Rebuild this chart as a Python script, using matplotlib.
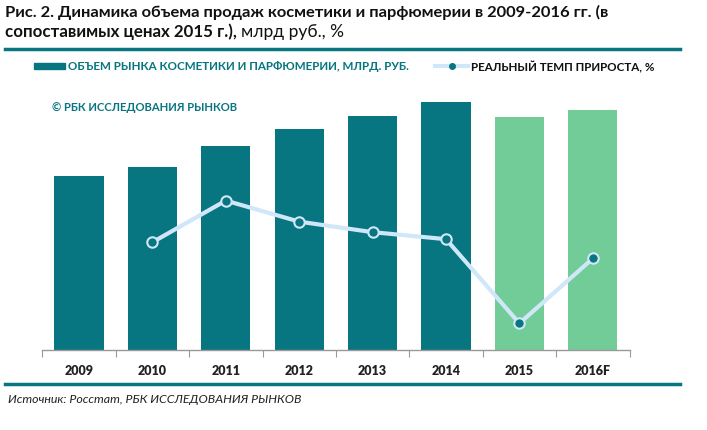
import matplotlib
matplotlib.use("Agg")
import matplotlib.pyplot as plt
from matplotlib.lines import Line2D
from matplotlib.patches import Rectangle

years = ["2009", "2010", "2011", "2012", "2013", "2014", "2015", "2016F"]
volume = [348, 366, 408, 442, 469, 496, 466, 480]          # млрд руб. (estimated)
growth_years_idx = [1, 2, 3, 4, 5, 6, 7]
growth = [3.25, 8.0, 5.6, 4.4, 3.6, -6.0, 1.4]               # % (estimated)

TEAL = "#077680"
GREEN = "#72CC98"
LINE = "#CFE7F8"
FONT = "Lato"

plt.rcParams["font.family"] = [FONT, "DejaVu Sans"]

W, H = 707, 431
fig = plt.figure(figsize=(W / 100, H / 100), dpi=100)

def fx(px):
    return px / W

def fy(py):
    return 1 - py / H

ax = fig.add_axes([fx(42.3), fy(351), fx(629.5) - fx(42.3), fy(92) - fy(351)])
x = list(range(len(years)))
colors = [TEAL] * 6 + [GREEN] * 2
ax.bar(x, volume, width=0.67, color=colors, edgecolor="none", zorder=2)
ax.set_xlim(-0.5, len(years) - 0.5)
ax.set_ylim(0, 518)
ax.set_yticks([])
for s in ["top", "right", "left"]:
    ax.spines[s].set_visible(False)
ax.spines["bottom"].set_color("#999999")
ax.spines["bottom"].set_linewidth(1.0)
ax.set_xticks([i - 0.5 for i in range(len(years) + 1)], minor=False)
ax.set_xticklabels([])
ax.tick_params(axis="x", which="major", length=5, color="#999999", direction="out")
ax.set_xticks(x, minor=True)
ax.set_xticklabels(years, minor=True, fontsize=9, fontweight="heavy", color="#222222")
ax.tick_params(axis="x", which="minor", length=0, pad=10)

ax2 = ax.twinx()
ax2.set_ylim(-9.04, 20.5)
ax2.axis("off")
ax2.plot(growth_years_idx, growth, color=LINE, linewidth=3, marker="o",
         markersize=7.5, markerfacecolor=TEAL, markeredgecolor=LINE,
         markeredgewidth=1.5, zorder=3)

# Title
fig.text(fx(5), fy(12), "Рис. 2. Динамика объема продаж косметики и парфюмерии в 2009-2016 гг. (в",
         fontsize=11.85, fontweight="bold", color="#111111", va="center", ha="left")
t2 = fig.text(fx(5), fy(32), "сопоставимых ценах 2015 г.),", fontsize=12.2, fontweight="bold",
              color="#111111", va="center", ha="left")
fig.canvas.draw()
bb = t2.get_window_extent(renderer=fig.canvas.get_renderer())
fig.text(bb.x1 / W + fx(4), fy(32), "млрд руб., %", fontsize=12.5, color="#111111",
         va="center", ha="left")

# Rules
fig.add_artist(Line2D([fx(5), fx(680)], [fy(50), fy(50)], color=TEAL, linewidth=2.5))
fig.add_artist(Line2D([fx(5), fx(680)], [fy(385), fy(385)], color=TEAL, linewidth=2.5))

# Legend
fig.add_artist(Rectangle((fx(34), fy(70)), fx(65) - fx(34), fy(64) - fy(70),
                         color=TEAL, transform=fig.transFigure))
fig.text(fx(68), fy(67), "ОБЪЕМ РЫНКА КОСМЕТИКИ И ПАРФЮМЕРИИ, МЛРД. РУБ.", fontsize=8.4,
         fontweight="bold", color=TEAL, va="center", ha="left")
fig.add_artist(Line2D([fx(435), fx(468)], [fy(67), fy(67)], color=LINE, linewidth=3))
fig.add_artist(Line2D([fx(452)], [fy(67)], marker="o", markersize=4, color=TEAL,
                      linestyle="none"))
fig.text(fx(471), fy(67), "РЕАЛЬНЫЙ ТЕМП ПРИРОСТА, %", fontsize=8.4, fontweight="bold",
         color="#111111", va="center", ha="left")

fig.text(fx(52), fy(108), "© РБК ИССЛЕДОВАНИЯ РЫНКОВ", fontsize=8.1, fontweight="bold",
         color=TEAL, va="center", ha="left")

fig.text(fx(8), fy(400), "Источник: Росстат, РБК ИССЛЕДОВАНИЯ РЫНКОВ", fontsize=8.9,
         fontstyle="italic", color="#222222", va="center", ha="left")

fig.savefig("out.png", dpi=100)
